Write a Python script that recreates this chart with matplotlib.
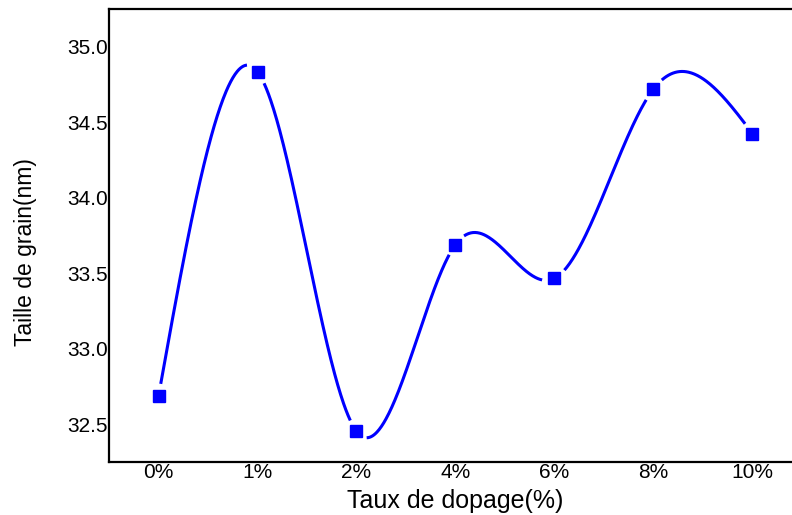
import matplotlib
matplotlib.use("Agg")
import matplotlib.pyplot as plt
import numpy as np

# data
categories = ["0%", "1%", "2%", "4%", "6%", "8%", "10%"]
grain_size = [32.685, 34.835, 32.454, 33.69, 33.466, 34.72, 34.425]

BLUE = "#0000ff"


def natural_spline(x, y, xs):
    # plain natural cubic spline, no scipy needed
    x = np.asarray(x, float)
    y = np.asarray(y, float)
    n = len(x)
    h = np.diff(x)
    A = np.zeros((n, n))
    b = np.zeros(n)
    A[0, 0] = A[-1, -1] = 1
    for i in range(1, n - 1):
        A[i, i - 1] = h[i - 1]
        A[i, i] = 2 * (h[i - 1] + h[i])
        A[i, i + 1] = h[i]
        b[i] = 3 * ((y[i + 1] - y[i]) / h[i] - (y[i] - y[i - 1]) / h[i - 1])
    c = np.linalg.solve(A, b)
    out = np.empty_like(xs)
    for k, t in enumerate(xs):
        i = min(np.searchsorted(x, t, side="right") - 1, n - 2)
        i = max(i, 0)
        dx = t - x[i]
        bi = (y[i + 1] - y[i]) / h[i] - h[i] * (2 * c[i] + c[i + 1]) / 3
        di = (c[i + 1] - c[i]) / (3 * h[i])
        out[k] = y[i] + bi * dx + c[i] * dx ** 2 + di * dx ** 3
    return out


plt.rcParams["font.family"] = ["Liberation Sans", "DejaVu Sans"]

fig = plt.figure(figsize=(7.92, 5.15), dpi=100)
W, H = 792, 515
ax = fig.add_axes([109 / W, 1 - 462 / H, 693 / W, 453 / H])

xpos = np.arange(len(categories))
xs = np.linspace(xpos[0], xpos[-1], 800)
ys = natural_spline(xpos, grain_size, xs)

ax.set_xlim(-0.5, 6.5)
ax.set_ylim(32.25, 35.25)

# Origin-style gap in the curve around each marker
fig.canvas.draw()
curve_px = ax.transData.transform(np.column_stack([xs, ys]))
pts_px = ax.transData.transform(np.column_stack([xpos, grain_size]))
ys_gap = ys.copy()
for p in pts_px:
    d = np.hypot(curve_px[:, 0] - p[0], curve_px[:, 1] - p[1])
    ys_gap[d < 12] = np.nan

ax.plot(xs, ys_gap, color=BLUE, lw=2.2, solid_capstyle="butt")
ax.plot(xpos, grain_size, "s", color=BLUE, ms=8.5, mec=BLUE)

ax.set_xticks(xpos)
ax.set_xticklabels(categories)
ax.set_yticks([32.5, 33.0, 33.5, 34.0, 34.5, 35.0])
ax.set_yticklabels(["32.5", "33.0", "33.5", "34.0", "34.5", "35.0"])
ax.tick_params(axis="both", length=0, labelsize=15)
ax.tick_params(axis="y", pad=1)
ax.tick_params(axis="x", pad=1)

for s in ax.spines.values():
    s.set_linewidth(1.6)

ax.set_xlabel("Taux de dopage(%)", fontsize=18, labelpad=5)
ax.set_ylabel("Taille de grain(nm)", fontsize=16.5)
ax.yaxis.set_label_coords(-0.104, 0.4636)

fig.savefig("out.png", dpi=100)
